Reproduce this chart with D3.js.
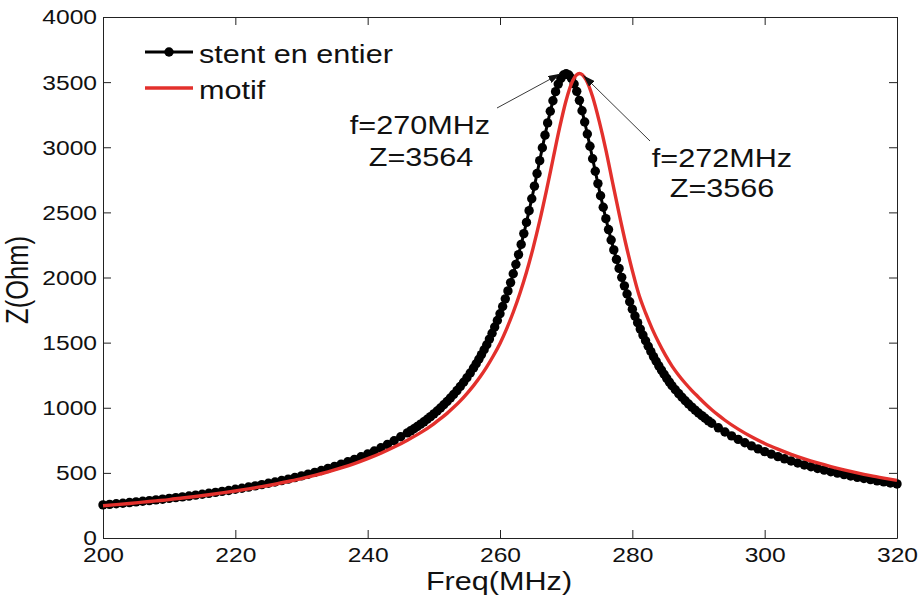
<!DOCTYPE html>
<html>
<head>
<meta charset="utf-8">
<script src="https://cdn.jsdelivr.net/npm/d3@7"></script>
<style>
  body { margin: 0; background: #fff; }
  text { font-family: "Liberation Sans", Arial, Helvetica, sans-serif; fill: #111; }
</style>
</head>
<body>
<div id="chart"></div>
<script>
// stent en entier (black, markers)
const freqBlack = [
  200,201,202,203,204,205,206,207,208,209,210,211,212,213,214,215,216,217,218,219,
  220,221,222,223,224,225,226,227,228,229,230,231,232,233,234,235,236,237,238,239,
  240,241,242,243,244,245,246,246.5,247,247.5,248,248.5,249,249.5,250,250.5,251,251.5,
  252,252.5,253,253.5,254,254.5,255,255.5,256,
  256.4,256.8,257.2,257.6,258,258.4,258.8,259.2,259.6,260,260.4,260.8,261.2,261.6,262,
  262.4,262.8,263.2,263.6,264,264.4,264.8,265.2,265.6,266,266.4,266.8,267.2,267.6,268,
  268.4,268.8,269.2,269.6,270,270.4,270.8,271.2,271.6,272,272.4,272.8,273.2,273.6,274,
  274.4,274.8,275.2,275.6,276,276.4,276.8,277.2,277.6,278,278.4,278.8,279.2,279.6,280,
  280.4,280.8,281.2,281.6,282,282.4,282.8,283.2,283.6,284,284.4,284.8,285.2,285.6,286,
  286.5,287,287.5,288,288.5,289,289.5,290,290.5,291,291.5,
  292,293,294,295,296,297,298,299,300,301,302,303,304,305,306,
  307,308,309,310,311,312,313,314,315,316,317,318,319,320
];
const zBlack = [
  254,258,263,267,272,277,282,287,293,298,304,310,316,322,329,336,343,350,358,365,
  374,382,391,400,410,420,430,441,452,464,477,490,504,518,534,550,567,585,604,624,
  645,668,693,719,747,777,807,823,839,856,874,892,912,932,953,975,998,1023,
  1048,1075,1103,1132,1163,1196,1230,1267,1305,
  1338,1372,1408,1445,1484,1527,1572,1620,1670,1722,1777,1836,1897,1961,2029,
  2101,2176,2254,2337,2423,2513,2605,2701,2798,2897,2996,3093,3187,3276,3357,
  3427,3485,3528,3555,3564,3555,3529,3486,3429,3360,3280,3194,3102,3008,2912,
  2816,2721,2628,2539,2452,2368,2288,2212,2139,2070,2001,1936,1873,1814,1757,
  1704,1653,1604,1558,1514,1472,1432,1393,1357,1322,1289,1257,1226,1197,1169,
  1138,1109,1081,1054,1029,1005,982,960,939,919,899,
  881,846,814,784,757,731,707,684,663,644,625,608,591,576,561,
  547,534,521,509,498,487,476,466,457,448,439,431,422,415
];

// motif (red line)
const freqRed = [
  200,202,204,206,208,210,212,214,216,218,220,222,224,226,228,230,232,234,236,238,
  240,242,244,246,248,250,251,252,253,254,255,256,257,258,259,260,261,262,263,264,
  265,266,267,268,269,270,271,272,273,274,275,276,277,278,279,280,281,282,283,284,
  285,286,287,288,289,290,291,292,293,294,296,298,300,302,304,306,308,310,312,314,
  316,318,320
];
const zRed = [
  248,256,265,275,285,295,307,319,332,346,361,377,394,413,434,456,481,508,538,571,
  609,651,698,751,809,877,916,957,1003,1053,1109,1170,1238,1314,1399,1494,1606,1733,1877,2040,
  2226,2434,2663,2906,3148,3361,3512,3566,3518,3387,3198,2980,2733,2490,2261,2053,1867,1728,1606,1499,
  1404,1320,1250,1188,1132,1081,1031,985,943,904,836,777,726,682,642,607,576,548,523,500,
  479,460,442
];

const seriesNames = ["stent en entier", "motif"];
const xTicks = [200, 220, 240, 260, 280, 300, 320];
const yTicks = [0, 500, 1000, 1500, 2000, 2500, 3000, 3500, 4000];
const peakFreq = [270, 272];
const peakZ = [3564, 3566];

const
  width = 918,
  height = 598,
  margin = {top: 17, right: 21, bottom: 60, left: 103},
  stretch = 1.2,
  red = "#e3302c";

const black = freqBlack.map((f, i) => ({f: f, z: zBlack[i]}));
const motif = freqRed.map((f, i) => ({f: f, z: zRed[i]}));

const xScale = d3.scaleLinear()
  .domain([200, 320])
  .range([margin.left, width - margin.right]);

const yScale = d3.scaleLinear()
  .domain([0, 4000])
  .range([height - margin.bottom, margin.top]);

const svg = d3.select("#chart").append("svg")
  .attr("width", width)
  .attr("height", height);

svg.append("rect").attr("width", width).attr("height", height).attr("fill", "#fff");

svg.append("defs").append("marker")
  .attr("id", "head")
  .attr("viewBox", "0 0 12 8")
  .attr("refX", 12).attr("refY", 4)
  .attr("markerWidth", 12).attr("markerHeight", 8)
  .attr("markerUnits", "userSpaceOnUse")
  .attr("orient", "auto")
  .append("path")
  .attr("d", "M0,0 L12,4 L0,8 Z")
  .attr("fill", "#111");

// text is a bit wider than normal in the original
function label(x, y, str, size, anchor, rot) {
  return svg.append("text")
    .attr("transform", "translate(" + x + "," + y + ")" +
      (rot ? " rotate(-90) scale(1," + stretch + ")" : " scale(" + stretch + ",1)"))
    .attr("text-anchor", anchor)
    .attr("font-size", size)
    .text(str);
}

// axes (box with inward ticks)
const gx = svg.append("g")
  .attr("transform", "translate(0," + yScale(0) + ")")
  .call(d3.axisBottom(xScale).tickValues(xTicks).tickFormat(d3.format("d"))
    .tickSizeInner(-8).tickSizeOuter(0));
gx.selectAll("text")
  .attr("y", null).attr("dy", null)
  .attr("transform", "translate(0,24) scale(" + stretch + ",1)");

const gy = svg.append("g")
  .attr("transform", "translate(" + xScale(200) + ",0)")
  .call(d3.axisLeft(yScale).tickValues(yTicks).tickFormat(d3.format("d"))
    .tickSizeInner(-8).tickSizeOuter(0));
gy.selectAll("text")
  .attr("x", null).attr("dy", "0.34em")
  .attr("transform", "translate(-6,0) scale(" + stretch + ",1)");

svg.append("g")
  .attr("transform", "translate(0," + yScale(4000) + ")")
  .call(d3.axisTop(xScale).tickValues(xTicks).tickSizeInner(-8).tickSizeOuter(0).tickFormat(""));

svg.append("g")
  .attr("transform", "translate(" + xScale(320) + ",0)")
  .call(d3.axisRight(yScale).tickValues(yTicks).tickSizeInner(-8).tickSizeOuter(0).tickFormat(""));

svg.selectAll(".domain, .tick line").attr("stroke", "#222").attr("stroke-width", 1);
svg.selectAll(".tick text").attr("font-size", 20.5).attr("fill", "#111")
  .attr("font-family", "'Liberation Sans', Arial, sans-serif");

// series
const line = d3.line().x(d => xScale(d.f)).y(d => yScale(d.z));

svg.append("path")
  .datum(black)
  .attr("fill", "none")
  .attr("stroke", "#000")
  .attr("stroke-width", 3)
  .attr("d", line);

svg.selectAll(".dot")
  .data(black)
  .enter()
  .append("circle")
  .attr("class", "dot")
  .attr("cx", d => xScale(d.f))
  .attr("cy", d => yScale(d.z))
  .attr("r", 4.7)
  .attr("fill", "#000");

svg.append("path")
  .datum(motif)
  .attr("fill", "none")
  .attr("stroke", red)
  .attr("stroke-width", 3.4)
  .attr("d", line.curve(d3.curveMonotoneX));

// legend
svg.append("line").attr("x1", 145).attr("x2", 193).attr("y1", 52).attr("y2", 52)
  .attr("stroke", "#000").attr("stroke-width", 3);
svg.append("circle").attr("cx", 169).attr("cy", 52).attr("r", 4.7).attr("fill", "#000");
svg.append("line").attr("x1", 145).attr("x2", 193).attr("y1", 88).attr("y2", 88)
  .attr("stroke", red).attr("stroke-width", 3.4);
label(199, 63, seriesNames[0], 25.5, "start");
label(199, 99, seriesNames[1], 25.5, "start");

// peak annotations
svg.append("line")
  .attr("x1", 497).attr("y1", 108)
  .attr("x2", xScale(peakFreq[0]) - 6).attr("y2", yScale(peakZ[0]))
  .attr("stroke", "#222").attr("stroke-width", 0.9)
  .attr("marker-end", "url(#head)");
svg.append("line")
  .attr("x1", 650).attr("y1", 141)
  .attr("x2", xScale(peakFreq[1]) + 4).attr("y2", yScale(peakZ[1]) + 2)
  .attr("stroke", "#222").attr("stroke-width", 0.9)
  .attr("marker-end", "url(#head)");

label(420, 134, "f=" + peakFreq[0] + "MHz", 25.5, "middle");
label(421, 166, "Z=" + peakZ[0], 25.5, "middle");
label(722, 167, "f=" + peakFreq[1] + "MHz", 25.5, "middle");
label(722, 197, "Z=" + peakZ[1], 25.5, "middle");

// axis titles
label(499, 590, "Freq(MHz)", 25.5, "middle");
label(28, 280, "Z(Ohm)", 25.5, "middle", true);
</script>
</body>
</html>
